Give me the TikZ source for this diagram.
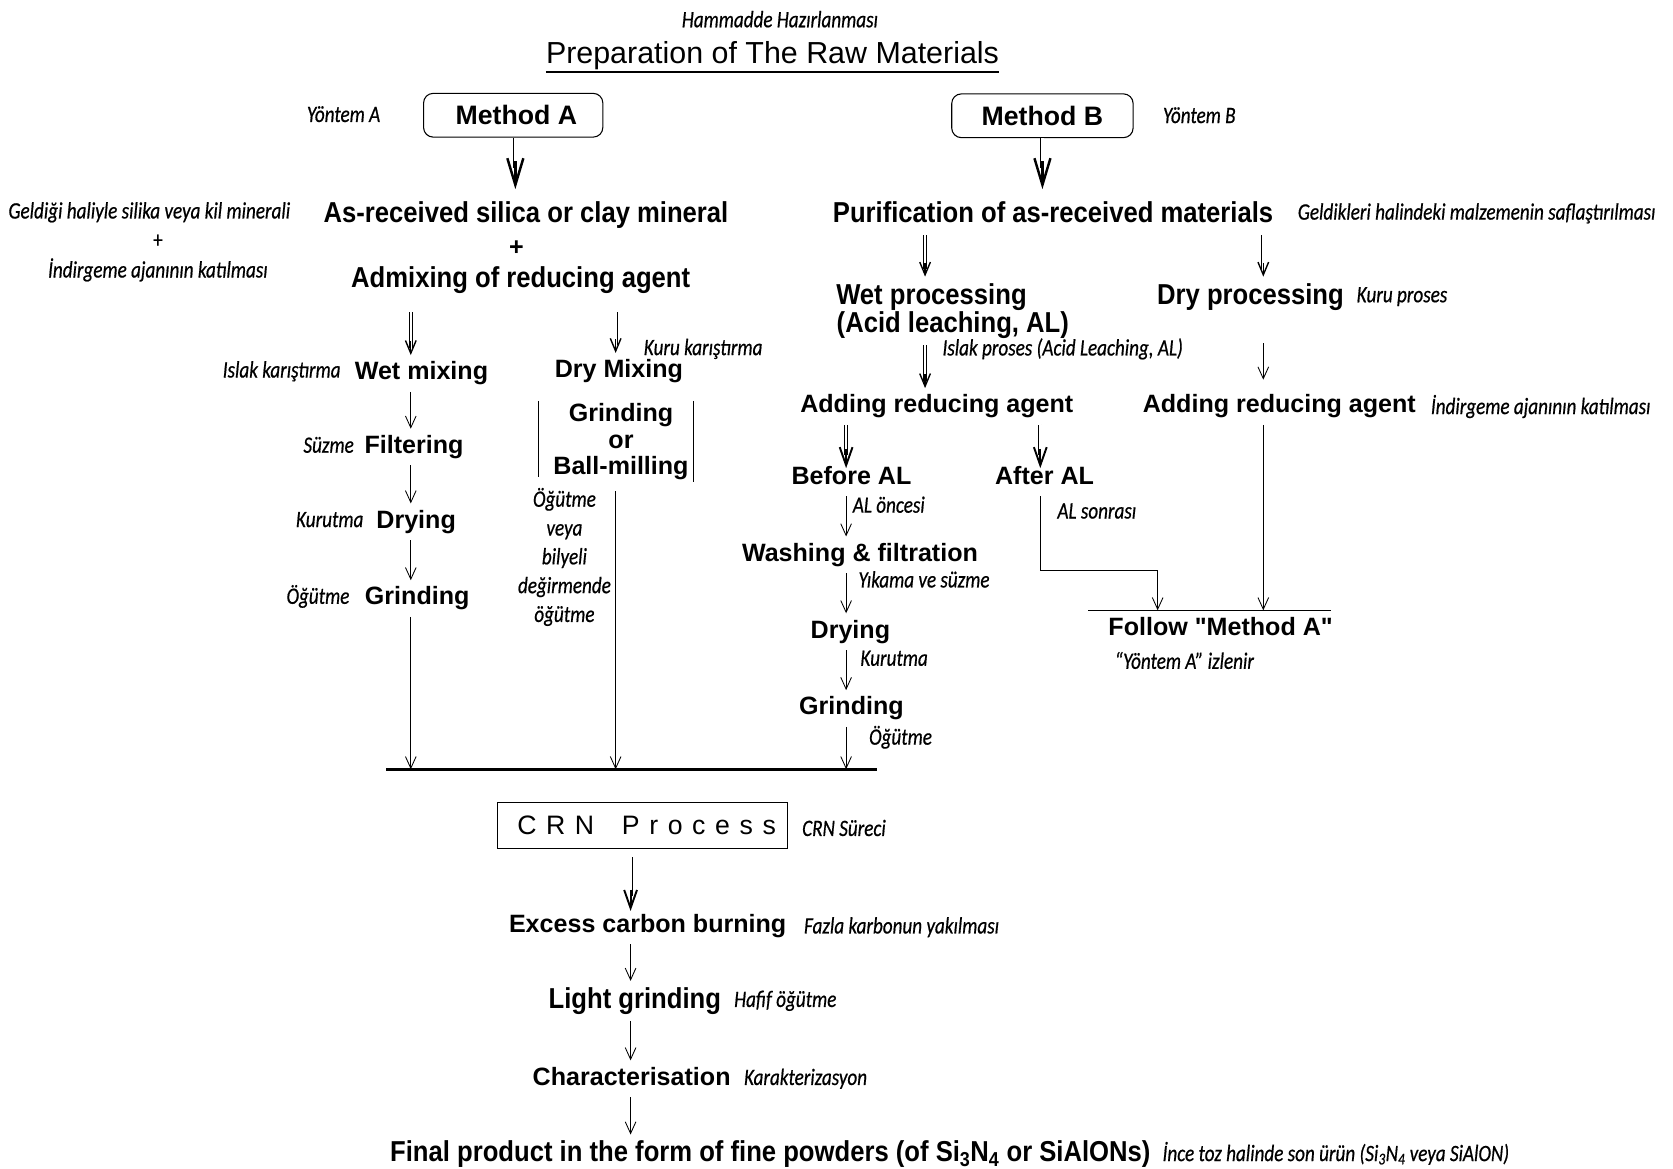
\documentclass[tikz,border=0pt]{standalone}
\usepackage{fontspec}
\setmainfont[Ligatures=TeXOff]{Liberation Sans}
\newfontfamily\condfont[FakeStretch=0.89]{Liberation Sans}
\newfontfamily\trfont[FakeStretch=0.815,FakeBold=0.6]{Carlito}
\newfontfamily\crnfont[LetterSpace=36]{Liberation Sans}
\usetikzlibrary{arrows.meta,calc}
\tikzset{
  mtext/.style={font=\fontsize{23.5}{26}\selectfont\bfseries, inner xsep=0pt, inner ysep=6pt, text height=17pt, text depth=5pt, yshift=-2pt},
  ctext/.style={font=\condfont\fontsize{27}{28}\selectfont\bfseries, inner xsep=0pt, inner ysep=6pt, text height=19.5pt, text depth=5.5pt, yshift=-2pt},
  ttext/.style={font=\trfont\itshape\fontsize{22}{27}\selectfont, inner sep=0pt},
  methbox/.style={draw, line width=1pt, rounded corners=9pt, minimum width=168pt, minimum height=41pt, font=\fontsize{25}{28}\selectfont\bfseries, inner sep=0pt},
  sarr/.style={line width=0.8pt, -{Straight Barb[length=11pt,width=10pt]}},
  dshaft/.style={double, double distance=2.4pt, line width=0.7pt},
  dhead/.style={line width=1.3pt, -{Straight Barb[length=12pt,width=10pt]}},
  mhead/.style={line width=1.8pt, -{Straight Barb[length=17pt,width=12pt]}},
  hhead/.style={line width=2.3pt, -{Straight Barb[length=25pt,width=15pt]}},
}
\newcommand\dbl[4]{%
  \draw[dshaft, shorten >=#4pt-5pt] #2 -- #3;
  \draw[#1] ($#3+(0,-#4-1)$) -- #3;}
\begin{document}
\begin{tikzpicture}[x=1pt,y=-1pt]
\useasboundingbox (0,0) rectangle (1568,1095);
% column coordinates
\coordinate (cA1) at (385,0);
\coordinate (cA2) at (577,0);
\coordinate (cM) at (793,0);
\coordinate (cAL) at (975,0);
\coordinate (cB1) at (867,0);
\coordinate (cB2) at (1184,0);
\coordinate (cC) at (591,0);
\coordinate (cMA) at (483,0);
\coordinate (cMB) at (977,0);
\coordinate (b1l) at (362,721);
\coordinate (b1r) at (822,721);
\coordinate (b2l) at (1020,572);
\coordinate (b2r) at (1247,572);
\coordinate (turn) at (1085,535);

% title
\node[ttext] (ham) at (731,18) {Hammadde Hazırlanması};
\node[font=\fontsize{28.5}{30}\selectfont, inner sep=0pt] (prep) at (724,52) {Preparation of The Raw Materials};
\draw[line width=2.2pt] ([yshift=-2pt]prep.south west) -- ([yshift=-2pt]prep.south east);

% methods
\node[ttext] (yA) at (322,107) {Yöntem A};
\node[methbox] (mA) at (481,108) {\hspace*{6pt}Method A};
\node[methbox, minimum width=170pt] (mB) at (977,108.5) {Method B};
\node[ttext] (yB) at (1124,108) {Yöntem B};

% Method A branch
\node[ctext] (asr) at (493,200) {As-received silica or clay mineral};
\node[mtext] (plusA) at (484,231) {+};
\node[ctext] (adm) at (488,260) {Admixing of reducing agent};
\node[ttext] (gL1) at (140,199) {Geldiği haliyle silika veya kil minerali};
\node[font=\trfont\fontsize{22}{27}\selectfont, inner sep=0pt] (gL2) at (148,226) {+};
\node[ttext] (gL3) at (148,253) {İndirgeme ajanının katılması};

\node[ttext] (islakk) at (264,348) {Islak karıştırma};
\node[mtext] (wetmix) at (395,348) {Wet mixing};
\node[ttext] (kurk) at (659,327) {Kuru karıştırma};
\node[mtext] (drymix) at (580,346) {Dry Mixing};
\node[font=\fontsize{23.5}{25}\selectfont\bfseries, align=center, inner sep=0pt, minimum width=145pt, minimum height=76pt] (gbm) at (577.5,414) {\hspace*{9pt}Grinding\\\hspace*{9pt}or\\\hspace*{9pt}Ball-milling};
\draw[line width=0.9pt] (gbm.north west) -- ([yshift=5pt]gbm.south west);
\draw[line width=0.9pt] (gbm.north east) -- (gbm.south east);
\node[ttext, align=center] (ogut) at (529,522) {Öğütme\\veya\\bilyeli\\değirmende\\öğütme};

\node[ttext] (suz) at (308,417) {Süzme};
\node[mtext] (filt) at (388,417) {Filtering};
\node[ttext] (kur1) at (309,487) {Kurutma};
\node[mtext] (dry1) at (390,487) {Drying};
\node[ttext] (og1) at (298,559) {Öğütme};
\node[mtext] (grind1) at (391,559) {Grinding};

% Method B branch
\node[ctext] (pur) at (987,200) {Purification of as-received materials};
\node[ttext] (gP) at (1384,200) {Geldikleri halindeki malzemenin saflaştırılması};
\node[ctext] (wetp) at (873,276) {Wet processing};
\node[ctext] (acid) at (893,303) {(Acid leaching, AL)};
\node[ctext] (dryp) at (1172,276) {Dry processing};
\node[ttext] (kuru) at (1314,278) {Kuru proses};
\node[ttext] (islak) at (996,327) {Islak proses (Acid Leaching, AL)};
\node[mtext] (addL) at (878,379) {Adding reducing agent};
\node[mtext] (addR) at (1199,379) {Adding reducing agent};
\node[ttext] (indR) at (1444,381) {İndirgeme ajanının katılması};

\node[mtext] (befal) at (798,446) {Before AL};
\node[mtext] (aftal) at (979,446) {After AL};
\node[ttext] (aloncesi) at (833,473) {AL öncesi};
\node[ttext] (alsonra) at (1028,479) {AL sonrası};
\node[mtext] (wash) at (806,518) {Washing \& filtration};
\node[ttext] (yik) at (866,543) {Yıkama ve süzme};
\node[mtext] (dry2) at (797,590) {Drying};
\node[ttext] (kur2) at (838,617) {Kurutma};
\node[mtext] (grind3) at (798,662) {Grinding};
\node[ttext] (og3) at (844,691) {Öğütme};

\node[mtext] (follow) at (1144,588) {Follow "Method A"};
\node[ttext] (izl) at (1110,619) {“Yöntem A” izlenir};

% bars
\draw[line width=2.5pt] (b1l) -- (b1r);
\draw[line width=1.2pt] (b2l) -- (b2r);

% CRN and after
\node[draw, line width=1pt, minimum width=272pt, minimum height=43pt, inner sep=0pt, font=\crnfont\fontsize{25}{27}\selectfont] (crn) at (602,773.5) {\hspace*{8pt}CRN\hspace{10pt} Process};
\node[ttext] (crnS) at (791,776) {CRN Süreci};
\node[mtext] (excess) at (607,866) {Excess carbon burning};
\node[ttext] (fazla) at (845,869) {Fazla karbonun yakılması};
\node[ctext] (light) at (595,936) {Light grinding};
\node[ttext] (hafif) at (736,938) {Hafif öğütme};
\node[mtext] (charz) at (592,1009) {Characterisation};
\node[ttext] (karak) at (755,1011) {Karakterizasyon};
\node[ctext] (final) at (722,1080) {Final product in the form of fine powders (of Si\textsubscript{3}N\textsubscript{4} or SiAlONs)};
\node[ttext] (ince) at (1252,1081) {İnce toz halinde son ürün (Si\textsubscript{3}N\textsubscript{4} veya SiAlON)};

% arrows: Method A
\dbl{hhead}{(mA.south -| cMA)}{($(asr.north -| cMA)+(0,-6)$)}{25}
\dbl{dhead}{($(adm.south -| cA1)+(0,12)$)}{(wetmix.north -| cA1)}{12}
\dbl{dhead}{($(adm.south -| cA2)+(0,12)$)}{(drymix.north -| cA2)}{12}
\draw[sarr] (wetmix.south -| cA1) -- (filt.north -| cA1);
\draw[sarr] (filt.south -| cA1) -- (dry1.north -| cA1);
\draw[sarr] (dry1.south -| cA1) -- (grind1.north -| cA1);
\draw[sarr] (grind1.south -| cA1) -- (b1l -| cA1);
\draw[sarr] ($(gbm.south -| cA2)+(0,8)$) -- (b1l -| cA2);

% arrows: Method B
\dbl{hhead}{(mB.south -| cMB)}{($(pur.north -| cMB)+(0,-6)$)}{25}
\dbl{dhead}{(pur.south -| cB1)}{(wetp.north -| cB1)}{12}
\dbl{dhead}{(pur.south -| cB2)}{(dryp.north -| cB2)}{12}
\dbl{dhead}{(acid.south -| cB1)}{(addL.north -| cB1)}{12}
\draw[sarr] ($(dryp.south -| cB2)+(0,25)$) -- ($(addR.north -| cB2)+(0,-8)$);
\dbl{mhead}{(addL.south -| cM)}{($(befal.north -| cM)+(0,8)$)}{17}
\dbl{mhead}{(addL.south -| cAL)}{($(aftal.north -| cAL)+(0,8)$)}{17}
\draw[sarr] (befal.south -| cM) -- (wash.north -| cM);
\draw[sarr] (wash.south -| cM) -- (dry2.north -| cM);
\draw[sarr] (dry2.south -| cM) -- (grind3.north -| cM);
\draw[sarr] (grind3.south -| cM) -- (b1l -| cM);
\draw[sarr] (aftal.south -| cAL) |- (turn) -- (b2l -| turn);
\draw[sarr] (addR.south -| cB2) -- (b2l -| cB2);

% arrows: final sequence
\dbl{mhead}{($(crn.south -| cC)+(0,8)$)}{($(excess.north -| cC)+(0,3)$)}{19}
\draw[sarr] (excess.south -| cC) -- (light.north -| cC);
\draw[sarr] (light.south -| cC) -- (charz.north -| cC);
\draw[sarr] (charz.south -| cC) -- (final.north -| cC);
\end{tikzpicture}
\end{document}
